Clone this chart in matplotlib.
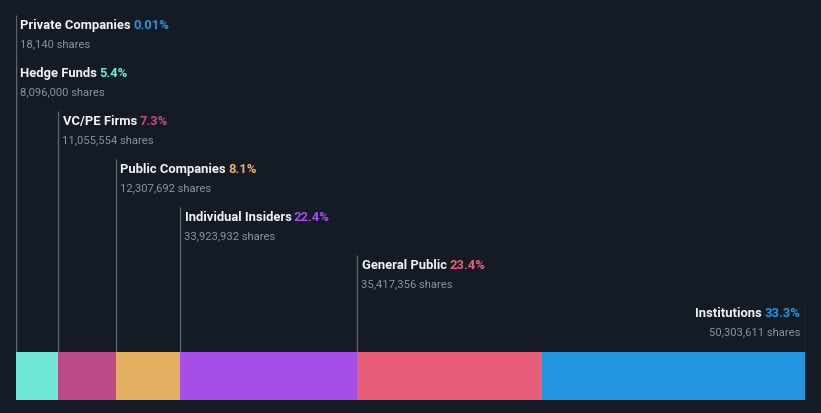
import matplotlib
matplotlib.use("Agg")
import matplotlib.pyplot as plt

categories = ["Private Companies", "Hedge Funds", "VC/PE Firms", "Public Companies",
              "Individual Insiders", "General Public", "Institutions"]
shares = [18140, 8096000, 11055554, 12307692, 33923932, 35417356, 50303611]
pct_labels = ["0.01%", "5.4%", "7.3%", "8.1%", "22.4%", "23.4%", "33.3%"]
share_labels = ["18,140 shares", "8,096,000 shares", "11,055,554 shares", "12,307,692 shares",
                "33,923,932 shares", "35,417,356 shares", "50,303,611 shares"]
colors = ["#2394e0", "#6fe8d6", "#bc4a87", "#e6b063", "#a54ee8", "#e85d77", "#2394e0"]

BG = "#151b25"
plt.rcParams['font.family'] = ['Roboto', 'DejaVu Sans']

W, H = 821, 414
fig = plt.figure(figsize=(W / 100, H / 100), dpi=100, facecolor=BG)
ax = fig.add_axes([16 / W, 0, 789 / W, 1])
ax.set_facecolor(BG)
total = sum(shares)
ax.set_xlim(0, total)
ax.set_ylim(H, 0)
ax.axis("off")

lefts = []
acc = 0
for s in shares:
    lefts.append(acc)
    acc += s

ax.barh(376.5, shares, left=lefts, height=48, color=colors, linewidth=0)

n = len(categories)
for i, (cat, s, l) in enumerate(zip(categories, shares, lefts)):
    y = 25.5 + 48 * i
    last = (i == n - 1)
    x = total if last else l
    ax.plot([x, x], [y - 10, 352.5], color="#5c626c", lw=1, solid_capstyle="butt", zorder=0)
    if not last:
        t = ax.annotate(cat, (x, y), xytext=(3, 0), textcoords="offset points",
                        ha="left", va="center", color="#f2f2f2", fontsize=9.4, fontweight="bold")
        ax.annotate(pct_labels[i], xy=(1, 0), xycoords=t, xytext=(1.8, 0), textcoords="offset points",
                    ha="left", va="bottom", color=colors[i], fontsize=9.4, fontweight="bold")
        ax.annotate(share_labels[i], (x, y + 19), xytext=(2.8, 0), textcoords="offset points",
                    ha="left", va="center", color="#8d9299", fontsize=8.1)
    else:
        p = ax.annotate(pct_labels[i], (x, y), xytext=(-3.5, 0), textcoords="offset points",
                        ha="right", va="center", color=colors[i], fontsize=9.4, fontweight="bold")
        ax.annotate(cat, xy=(0, 0), xycoords=p, xytext=(-1.8, 0), textcoords="offset points",
                    ha="right", va="bottom", color="#f2f2f2", fontsize=9.4, fontweight="bold")
        ax.annotate(share_labels[i], (x, y + 19), xytext=(-3.5, 0), textcoords="offset points",
                    ha="right", va="center", color="#8d9299", fontsize=8.1)

fig.savefig("out.png", dpi=100, facecolor=BG)
